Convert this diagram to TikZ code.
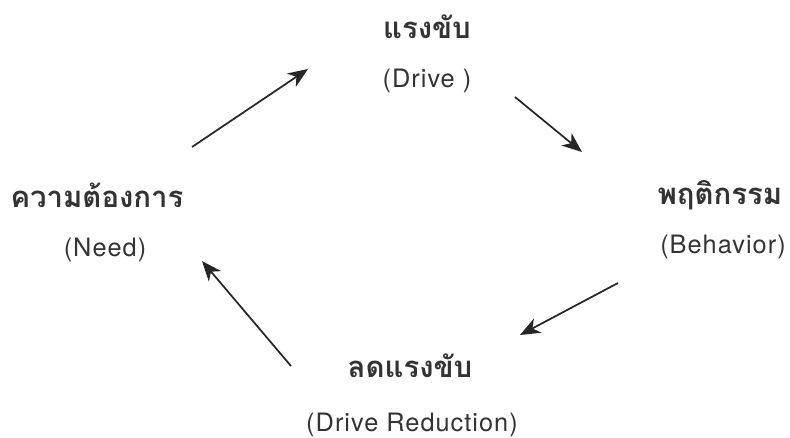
\documentclass[tikz,border=0pt]{standalone}
\usepackage{fontspec}
\setmainfont{TeX Gyre Heros}
\newfontfamily\thaifont[Script=Thai]{Loma}
\usetikzlibrary{arrows.meta}
\definecolor{inkgray}{HTML}{333333}
\tikzset{
  thaititle/.style={text=inkgray, font=\thaifont\bfseries\fontsize{22}{26}\selectfont, inner sep=0pt},
  engtext/.style={text=inkgray, font=\addfontfeature{LetterSpace=4}\fontsize{19}{23}\selectfont, inner sep=0pt},
  cyclearrow/.style={draw=black!85, line width=1.3pt, -{Stealth[length=15pt, width=12pt, inset=4.5pt]}}
}
\begin{document}
\begin{tikzpicture}[x=0.75pt, y=-0.75pt]
   \useasboundingbox (0, 0) rectangle (790, 437);
   % labels
   \node[thaititle] (driveT) at (427, 27) {แรงขับ};
   \node[engtext] (driveE) at (427, 81) {(Drive )};
   \node[thaititle] (behavT) at (720, 195) {พฤติกรรม};
   \node[engtext] (behavE) at (723, 247) {(Behavior)};
   \node[thaititle] (reducT) at (410, 366) {ลดแรงขับ};
   \node[engtext] (reducE) at (412, 425) {(Drive Reduction)};
   \node[thaititle] (needT) at (97, 195) {ความต้องการ};
   \node[engtext] (needE) at (105, 250) {(Need)};
   % arrow ends
   \coordinate (a1) at (192, 147);
   \coordinate (b1) at (308, 69);
   \coordinate (a2) at (515, 97);
   \coordinate (b2) at (582, 152);
   \coordinate (a3) at (618, 283);
   \coordinate (b3) at (520, 335);
   \coordinate (a4) at (291, 366);
   \coordinate (b4) at (202, 261);
   \draw[cyclearrow] (a1) -- (b1);
   \draw[cyclearrow] (a2) -- (b2);
   \draw[cyclearrow] (a3) -- (b3);
   \draw[cyclearrow] (a4) -- (b4);
\end{tikzpicture}
\end{document}
